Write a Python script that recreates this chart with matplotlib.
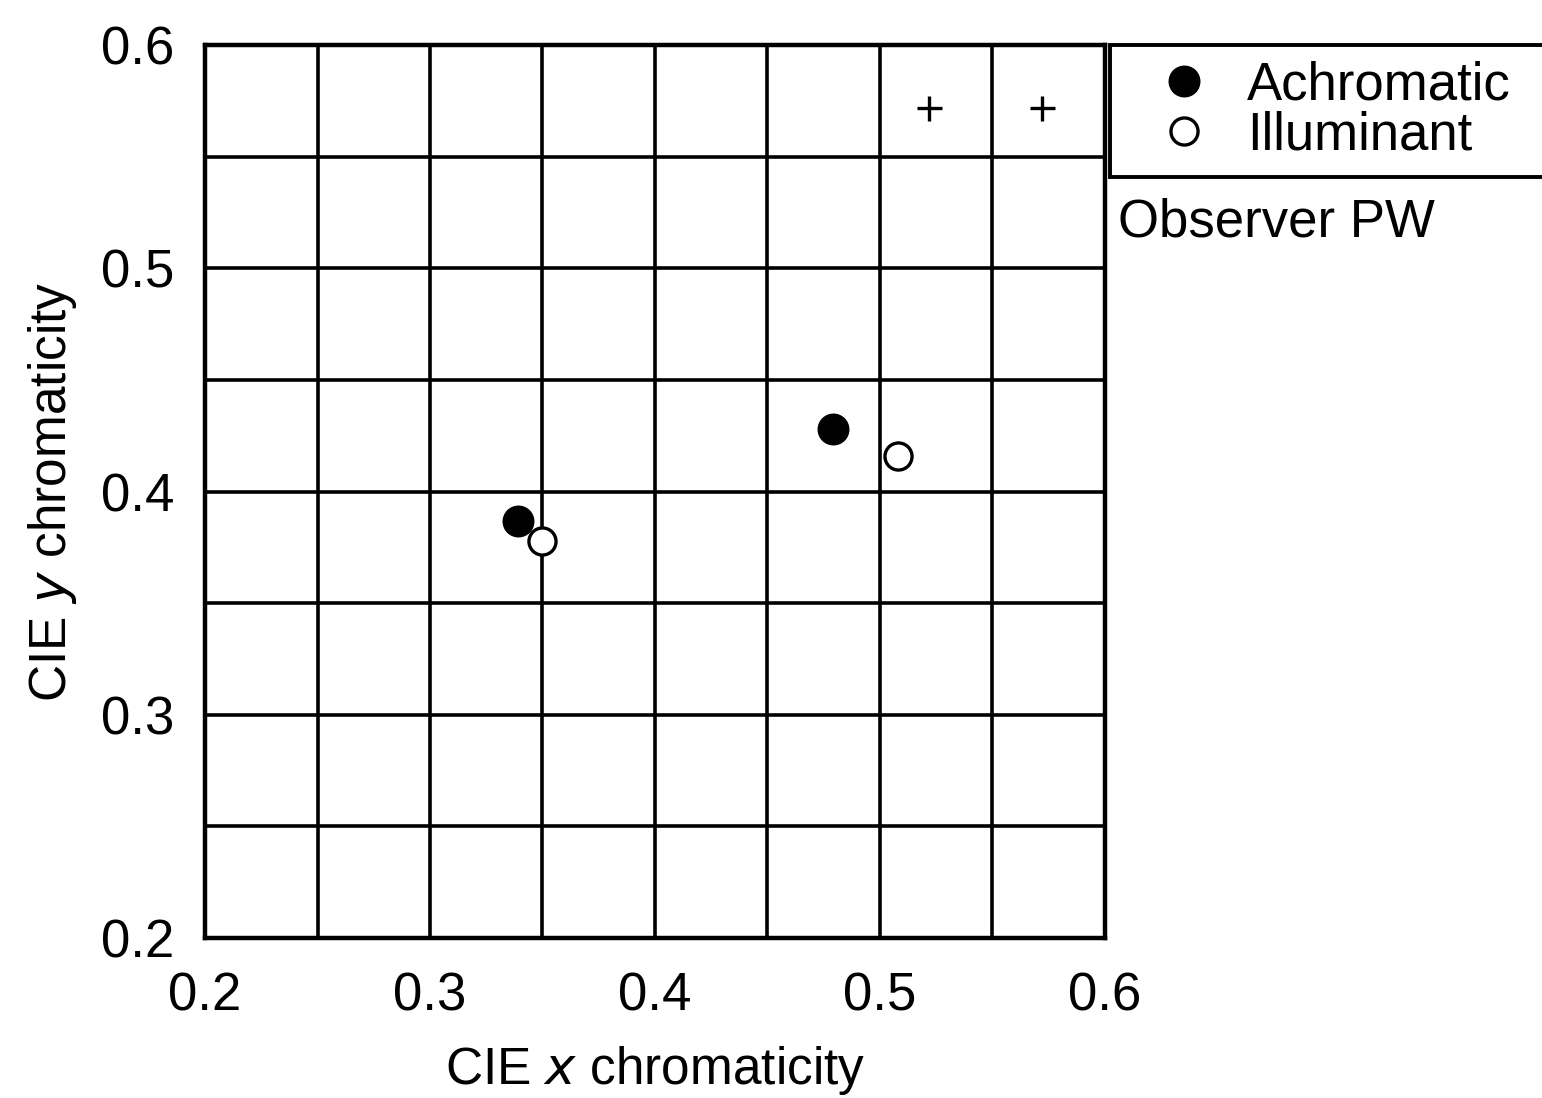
import matplotlib.pyplot as plt
import numpy as np

# values
achromatic_x = [0.339, 0.479]
achromatic_y = [0.387, 0.428]
illuminant_x = [0.350, 0.508]
illuminant_y = [0.378, 0.416]
plus_x = [0.522, 0.572]
plus_y = [0.572, 0.572]
ticks = [0.2, 0.3, 0.4, 0.5, 0.6]
tick_labels = ['0.2', '0.3', '0.4', '0.5', '0.6']

plt.rcParams['font.family'] = ['Liberation Sans', 'DejaVu Sans']

fig = plt.figure(figsize=(15.42, 10.98), dpi=100)
ax = fig.add_axes([0.133, 0.1457, 0.5834, 0.8133])

# grid every 0.05
for g in np.arange(0.25, 0.6, 0.05):
    ax.axvline(g, color='black', lw=2.6, zorder=1)
    ax.axhline(g, color='black', lw=2.6, zorder=1)

ax.plot(plus_x, plus_y, linestyle='none', marker='+', ms=18, mew=2.4,
        color='black', zorder=3)
ax.plot(achromatic_x, achromatic_y, linestyle='none', marker='o', ms=22,
        mfc='black', mec='black', label='Achromatic', zorder=3)
ax.plot(illuminant_x, illuminant_y, linestyle='none', marker='o', ms=19.5,
        mfc='white', mec='black', mew=2.4, label='Illuminant', zorder=4)

ax.set_xlim(0.2, 0.6)
ax.set_ylim(0.2, 0.6)
ax.set_xticks(ticks)
ax.set_xticklabels(tick_labels)
ax.set_yticks(ticks)
ax.set_yticklabels(tick_labels)
ax.tick_params(length=0, labelsize=38)
ax.tick_params(axis='x', pad=24)
ax.tick_params(axis='y', pad=22)
for s in ax.spines.values():
    s.set_linewidth(3.2)

ax.set_xlabel('CIE $\\it{x}$ chromaticity', fontsize=37, labelpad=16)
ax.set_ylabel('CIE $\\it{y}$ chromaticity', fontsize=37, labelpad=16)

# legend box runs off the right edge like in the original
leg = ax.legend(loc='upper left', bbox_to_anchor=(1.006, 1.0, 0.6, 0.0),
                mode='expand', fontsize=38, frameon=True, fancybox=False,
                framealpha=1, borderpad=0.3, handletextpad=0.1,
                labelspacing=0.0, handlelength=2.2, borderaxespad=0)
leg.get_frame().set_edgecolor('black')
leg.get_frame().set_linewidth(2.8)

fig.text(0.725, 0.797, 'Observer PW', fontsize=38, va='center', ha='left')

fig.savefig('out.png', dpi=100)
